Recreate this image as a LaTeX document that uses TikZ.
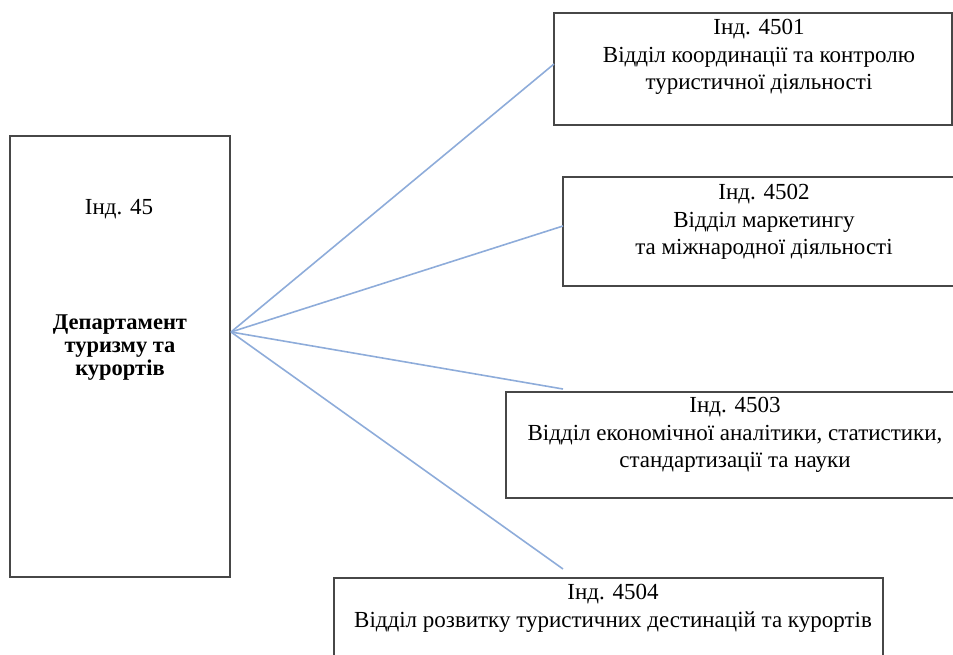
\documentclass[tikz,border=0pt]{standalone}
\usepackage{fontspec}
\setmainfont{Liberation Serif}
\begin{document}
\begin{tikzpicture}[x=1pt,y=-1pt,
  boxstyle/.style={draw=black!72,line width=1.4pt,fill=white},
  linkline/.style={draw={rgb,255:red,142;green,172;blue,218},line width=1.6pt},
  boxtext/.style={inner sep=0pt,align=center,anchor=north,font=\fontsize{23}{27.5}\selectfont},
  boldtext/.style={inner sep=0pt,align=center,anchor=north,font=\bfseries\fontsize{22.5}{23}\selectfont}]
\useasboundingbox (0,0) rectangle (953,654);
\clip (0,0) rectangle (953,654);
% boxes
\draw[boxstyle] (10,136) rectangle (230,577);
\draw[boxstyle] (554,13) rectangle (952,125);
\draw[boxstyle] (563,177) rectangle (970,286);
\draw[boxstyle] (506,392) rectangle (970,498);
\draw[boxstyle] (334,578) rectangle (883,670);
\node[inner sep=0pt,minimum width=220pt,minimum height=441pt] (dep) at (120,356.5) {};
\node[inner sep=0pt,minimum width=398pt,minimum height=112pt] (b1) at (753,69) {};
\node[inner sep=0pt,minimum width=407pt,minimum height=109pt] (b2) at (766.5,231.5) {};
\node[inner sep=0pt,minimum width=464pt,minimum height=106pt] (b3) at (738,445) {};
\node[inner sep=0pt,minimum width=549pt,minimum height=92pt] (b4) at (608.5,624) {};
% connectors
\coordinate (hub) at (231,332);
\coordinate (e1) at (554,64);
\coordinate (e2) at (563,226);
\coordinate (e3) at (563,389);
\coordinate (e4) at (563,569);
\draw[linkline] (hub) -- (e1);
\draw[linkline] (hub) -- (e2);
\draw[linkline] (hub) -- (e3);
\draw[linkline] (hub) -- (e4);
% texts
\node[boxtext] (t0) at (119,199) {Інд. 45};
\node[boldtext] (t0b) at (120,315) {Департамент\\туризму та\\курортів};
\node[boxtext] (t1) at (759,19) {Інд. 4501\\Відділ координації та контролю\\туристичної діяльності};
\node[boxtext] (t2) at (764,184) {Інд. 4502\\Відділ маркетингу\\та міжнародної діяльності};
\node[boxtext] (t3) at (735,397) {Інд. 4503\\Відділ економічної аналітики, статистики,\\стандартизації та науки};
\node[boxtext] (t4) at (613,584) {Інд. 4504\\Відділ розвитку туристичних дестинацій та курортів};
\end{tikzpicture}
\end{document}
